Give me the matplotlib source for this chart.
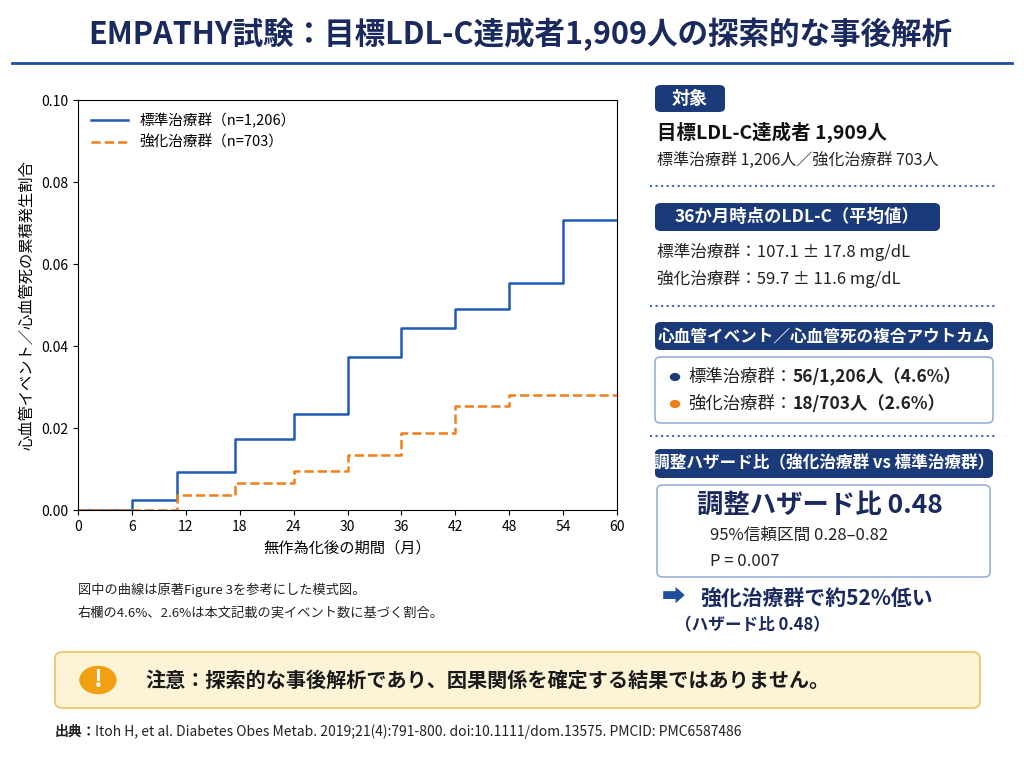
import matplotlib.pyplot as plt
from matplotlib.patches import FancyBboxPatch, Circle
from matplotlib.lines import Line2D

plt.rcParams['font.family'] = ['Noto Sans CJK JP', 'DejaVu Sans']

months_std = [0, 6, 11, 17.5, 24, 30, 36, 42, 48, 54, 60]
risk_std = [0, 0.0024, 0.0093, 0.0173, 0.0234, 0.0373, 0.0444, 0.049, 0.0554, 0.0707, 0.0707]
months_int = [0, 11, 17.5, 24, 30, 36, 42, 48, 60]
risk_int = [0, 0.0037, 0.0067, 0.0094, 0.0134, 0.0188, 0.0254, 0.028, 0.028]
xticks = [0, 6, 12, 18, 24, 30, 36, 42, 48, 54, 60]

BLUE = '#1f5bb5'
ORANGE = '#f07f1a'
NAVY = '#1b3a7a'
W, H = 1024, 768

fig = plt.figure(figsize=(10.24, 7.68), dpi=100)

def fx(x): return x / W
def fy(y): return 1 - y / H

def txt(x, y, s, size=12, weight='normal', color='#222222', ha='left', va='center'):
    fig.text(fx(x), fy(y), s, fontsize=size, fontweight=weight, color=color, ha=ha, va=va)

def box(x0, y0, x1, y1, fc, ec='none', lw=1.0, r=6):
    p = FancyBboxPatch((fx(x0), fy(y1)), fx(x1 - x0), (y1 - y0) / H,
                       boxstyle=f"round,pad=0,rounding_size={r / W}",
                       transform=fig.transFigure, fc=fc, ec=ec, lw=lw)
    fig.patches.append(p)

def hline(y, x0, x1, color, lw=1.0, ls='-'):
    fig.add_artist(Line2D([fx(x0), fx(x1)], [fy(y), fy(y)], color=color, lw=lw, ls=ls,
                          transform=fig.transFigure))

# title
txt(520, 35, 'EMPATHY試験：目標LDL-C達成者1,909人の探索的な事後解析', 22, 'bold', '#1a2a5e', 'center')
hline(63, 12, 1012, '#1f4e9c', 2)

# chart
ax = fig.add_axes([fx(78), fy(510), fx(617 - 78), (510 - 100) / H])
ax.step(months_std, risk_std, where='post', color=BLUE, lw=1.8, label='標準治療群（n=1,206）')
ax.step(months_int, risk_int, where='post', color=ORANGE, lw=1.8, ls='--', label='強化治療群（n=703）')
ax.set_xlim(0, 60)
ax.set_ylim(0, 0.10)
ax.set_xticks(xticks)
ax.set_yticks([0, 0.02, 0.04, 0.06, 0.08, 0.10])
ax.set_yticklabels(['0.00', '0.02', '0.04', '0.06', '0.08', '0.10'])
ax.tick_params(labelsize=10)
ax.set_xlabel('無作為化後の期間（月）', fontsize=11)
ax.set_ylabel('心血管イベント／心血管死の累積発生割合', fontsize=11)
ax.legend(loc='upper left', frameon=False, fontsize=10.5, handlelength=2.5)

txt(78, 590, '図中の曲線は原著Figure 3を参考にした模式図。', 9.5)
txt(78, 613, '右欄の4.6%、2.6%は本文記載の実イベント数に基づく割合。', 9.5)

# right panel
box(655, 85, 725, 112, NAVY)
txt(690, 98, '対象', 13, 'bold', 'white', 'center')
txt(657, 132, '目標LDL-C達成者 1,909人', 14, 'bold', '#111111')
txt(657, 160, '標準治療群 1,206人／強化治療群 703人', 11.5)
hline(186, 650, 995, '#3a6bc0', 1.5, ':')

box(655, 203, 940, 231, NAVY)
txt(797, 217, '36か月時点のLDL-C（平均値）', 12.5, 'bold', 'white', 'center')
txt(657, 252, '標準治療群：107.1 ± 17.8 mg/dL', 12)
txt(657, 279, '強化治療群：59.7 ± 11.6 mg/dL', 12)
hline(306, 650, 995, '#3a6bc0', 1.5, ':')

box(655, 322, 993, 350, NAVY)
txt(824, 336, '心血管イベント／心血管死の複合アウトカム', 12, 'bold', 'white', 'center')
box(655, 357, 993, 423, 'white', '#9ab0d8', 1.2)
fig.patches.append(Circle((fx(675), fy(377)), 4.5 / W, transform=fig.transFigure, color=NAVY))
fig.patches.append(Circle((fx(675), fy(404)), 4.5 / W, transform=fig.transFigure, color=ORANGE))
txt(688, 377, '標準治療群：', 12.5)
txt(793, 377, '56/1,206人（4.6%）', 12.5, 'bold')
txt(688, 404, '強化治療群：', 12.5)
txt(793, 404, '18/703人（2.6%）', 12.5, 'bold')
hline(436, 650, 995, '#3a6bc0', 1.5, ':')

box(655, 449, 993, 478, NAVY)
txt(824, 463, '調整ハザード比（強化治療群 vs 標準治療群）', 12, 'bold', 'white', 'center')
box(657, 485, 990, 577, 'white', '#9ab0d8', 1.2)
txt(820, 505, '調整ハザード比 0.48', 19, 'bold', '#1a2a5e', 'center')
txt(710, 535, '95%信頼区間 0.28–0.82', 12)
txt(710, 561, 'P = 0.007', 12)
txt(662, 598, '➡', 17, 'bold', '#1f4e9c')
txt(700, 598, '強化治療群で約52%低い', 15, 'bold', '#1a2a5e')
txt(675, 625, '（ハザード比 0.48）', 12, 'bold', '#1a2a5e')

# warning
box(55, 652, 980, 708, '#fdf3d7', '#f0c060', 1.2, 8)
fig.patches.append(Circle((fx(98), fy(680)), 18 / W, transform=fig.transFigure, color='#f0a010'))
txt(98, 680, '!', 17, 'bold', 'white', 'center')
txt(145, 680, '注意：探索的な事後解析であり、因果関係を確定する結果ではありません。', 14.5, 'bold', '#1a1a1a')

txt(55, 732, '出典：', 10, 'bold')
txt(95, 732, 'Itoh H, et al. Diabetes Obes Metab. 2019;21(4):791-800. doi:10.1111/dom.13575. PMCID: PMC6587486', 10)

fig.savefig('out.png', dpi=100)
